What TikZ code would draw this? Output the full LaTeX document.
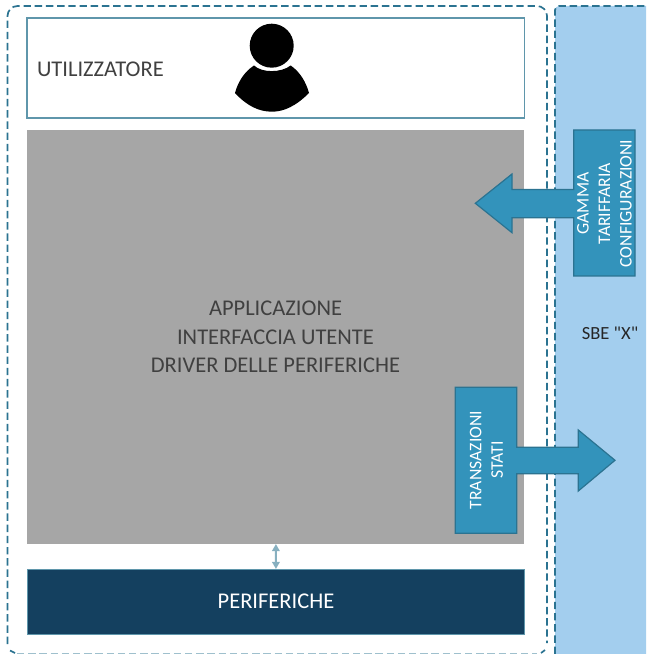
\documentclass[tikz,border=0pt]{standalone}
\usepackage{fontspec}
\setmainfont{Carlito}[Ligatures=TeXOff]
\usepackage{xcolor}
\usetikzlibrary{arrows.meta}

\definecolor{bordo}{HTML}{2B7391}
\definecolor{bordochiaro}{HTML}{5F96AB}
\definecolor{azzurro}{HTML}{A3CEEE}
\definecolor{freccia}{HTML}{3393BB}
\definecolor{grigio}{HTML}{A6A6A6}
\definecolor{notte}{HTML}{14405F}
\definecolor{testo}{HTML}{404040}

\tikzset{
  blocco/.style={inner sep=0pt, outer sep=0pt, text=testo, align=center,
    font={\fontsize{16}{20.2}\selectfont}},
  etichetta/.style={inner sep=0pt, text=white, align=center, rotate=90,
    font={\fontsize{12.6}{15.3}\selectfont}},
  callout/.style={draw=bordo, fill=freccia, line width=0.3mm, line join=miter},
  tratteggio/.style={draw=bordo, line width=0.42mm, dash pattern=on 1.85mm off 0.95mm}
}

\begin{document}
\begin{tikzpicture}[x=0.25mm,y=-0.25mm]
\useasboundingbox (0,0) rectangle (646,654);

% Panel on the right
\fill [azzurro] (555,10) arc (180:270:4) -- (646,6) -- (646,654) -- (555,654) -- cycle;
\draw [tratteggio] (555,654) -- (555,10) arc (180:270:4) -- (646,6);

% Dashed frame
\draw [tratteggio] (7.5,644) -- (7.5,16) arc (180:270:10) -- (537,6) arc (270:360:10) -- (547,643);
\draw [draw=bordochiaro!60, line width=0.25mm, dash pattern=on 1.85mm off 0.95mm] (17,653) -- (537,653);
\draw [draw=bordo, line width=0.42mm] (10,650.5) -- (15,653);
\draw [draw=bordo, line width=0.42mm] (541,653) -- (545,650);

% Blocks
\node [blocco, draw=bordochiaro, line width=0.35mm, minimum width=124.4mm, minimum height=25mm] (utilizzatore) at (275.75,68) {};
\node [blocco, fill=grigio, minimum width=124.25mm, minimum height=103.5mm] (applicazione) at (275.5,337) {APPLICAZIONE\\INTERFACCIA UTENTE\\DRIVER DELLE PERIFERICHE};
\node [blocco, fill=notte, draw=bordochiaro, line width=0.25mm, text=white, minimum width=124.4mm, minimum height=16.25mm] (periferiche) at (276,601.5) {PERIFERICHE};

% Labels
\node [blocco, anchor=west] (nomeutente) at (37,69.5) {UTILIZZATORE};
\node [blocco, text=black!85, font={\fontsize{13.2}{16}\selectfont}] (sbe) at (610,333) {SBE "X"};

% Person
\fill [black] (271.7,45.7) circle [radius=22];
\fill [black] (254,65.5) .. controls (262,73) and (281,73) .. (290.7,65.5)
  .. controls (300,72) and (306,82) .. (309,93)
  .. controls (296,106) and (284,111.7) .. (272,111.7)
  .. controls (259,111.7) and (247,106) .. (235,93)
  .. controls (238,82) and (244,72) .. (254,65.5) -- cycle;

% Callout to the left
\draw [callout] (635,130) -- (635,276) -- (573.7,276) -- (573.7,217.7) -- (512,217.7) -- (512,232.7)
  -- (475.3,203.3) -- (512,174) -- (512,189.5) -- (573.7,189.5) -- (573.7,130) -- cycle;
\node [etichetta] (gamma) at (604.5,203.5) {GAMMA\\TARIFFARIA\\CONFIGURAZIONI};

% Callout to the right
\draw [callout] (455.3,387.3) -- (516.7,387.3) -- (516.7,447.3) -- (578.3,447.3) -- (578.3,430)
  -- (615,460.3) -- (578.3,491) -- (578.3,473.7) -- (516.7,473.7) -- (516.7,533.3) -- (455.3,533.3) -- cycle;
\node [etichetta] (transazioni) at (486.5,460) {TRANSAZIONI\\STATI};

% Link to the peripherals
\draw [<->, >={Stealth[length=1.8mm,width=1.9mm,inset=0pt]}, draw=bordochiaro!75, line width=0.5mm] (applicazione) -- (periferiche);

\end{tikzpicture}
\end{document}
